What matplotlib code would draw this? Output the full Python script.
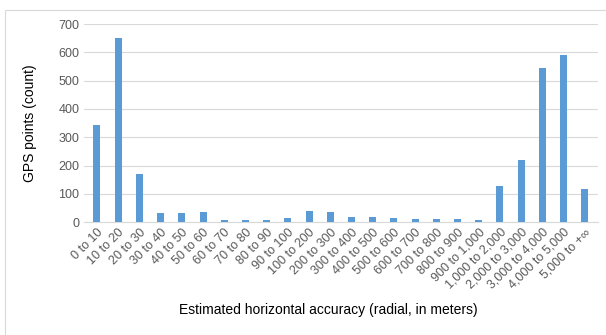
import matplotlib.pyplot as plt
from matplotlib.patches import Rectangle

plt.rcParams['font.family'] = ['Liberation Sans', 'DejaVu Sans']

categories = ["0 to 10", "10 to 20", "20 to 30", "30 to 40", "40 to 50", "50 to 60",
              "60 to 70", "70 to 80", "80 to 90", "90 to 100", "100 to 200", "200 to 300",
              "300 to 400", "400 to 500", "500 to 600", "600 to 700", "700 to 800",
              "800 to 900", "900 to 1,000", "1,000 to 2,000", "2,000 to 3,000",
              "3,000 to 4,000", "4,000 to 5,000", "5,000 to +\u221e"]
counts = [342, 650, 170, 32, 32, 35, 7, 6, 6, 14, 39, 35,
          18, 18, 14, 11, 11, 11, 7, 127, 219, 545, 590, 117]

fig = plt.figure(figsize=(6.06, 3.35), dpi=100)
# outer chart border (runs off the right and bottom edges)
fig.patches.append(Rectangle((0.008, -0.05), 1.1, 1.02, transform=fig.transFigure,
                             fill=False, edgecolor='#d9d9d9', linewidth=0.8))

ax = fig.add_axes([0.139, 0.337, 0.847, 0.591])
x = range(len(categories))
ax.bar(x, counts, width=0.33, color='#5b9bd5', zorder=3)

ax.set_ylim(0, 700)
ax.set_yticks(range(0, 701, 100))
ax.set_xlim(-0.6, len(categories) - 0.4)
ax.grid(axis='y', color='#d9d9d9', linewidth=0.8, zorder=0)
for s in ['top', 'right', 'left']:
    ax.spines[s].set_visible(False)
ax.spines['bottom'].set_color('#d9d9d9')
ax.tick_params(length=0, colors='#595959', labelsize=9)
ax.tick_params(axis='x', pad=3)
ax.set_xticks(list(x))
ax.set_xticklabels(categories, rotation=45, ha='right', rotation_mode='anchor')

ax.set_ylabel("GPS points (count)", fontsize=10, color='black')
ax.yaxis.set_label_coords(-0.092, 0.5)
fig.text(0.541, 0.075, "Estimated horizontal accuracy (radial, in meters)",
         ha='center', va='center', fontsize=10, color='black')

fig.savefig("out.png", dpi=100)
